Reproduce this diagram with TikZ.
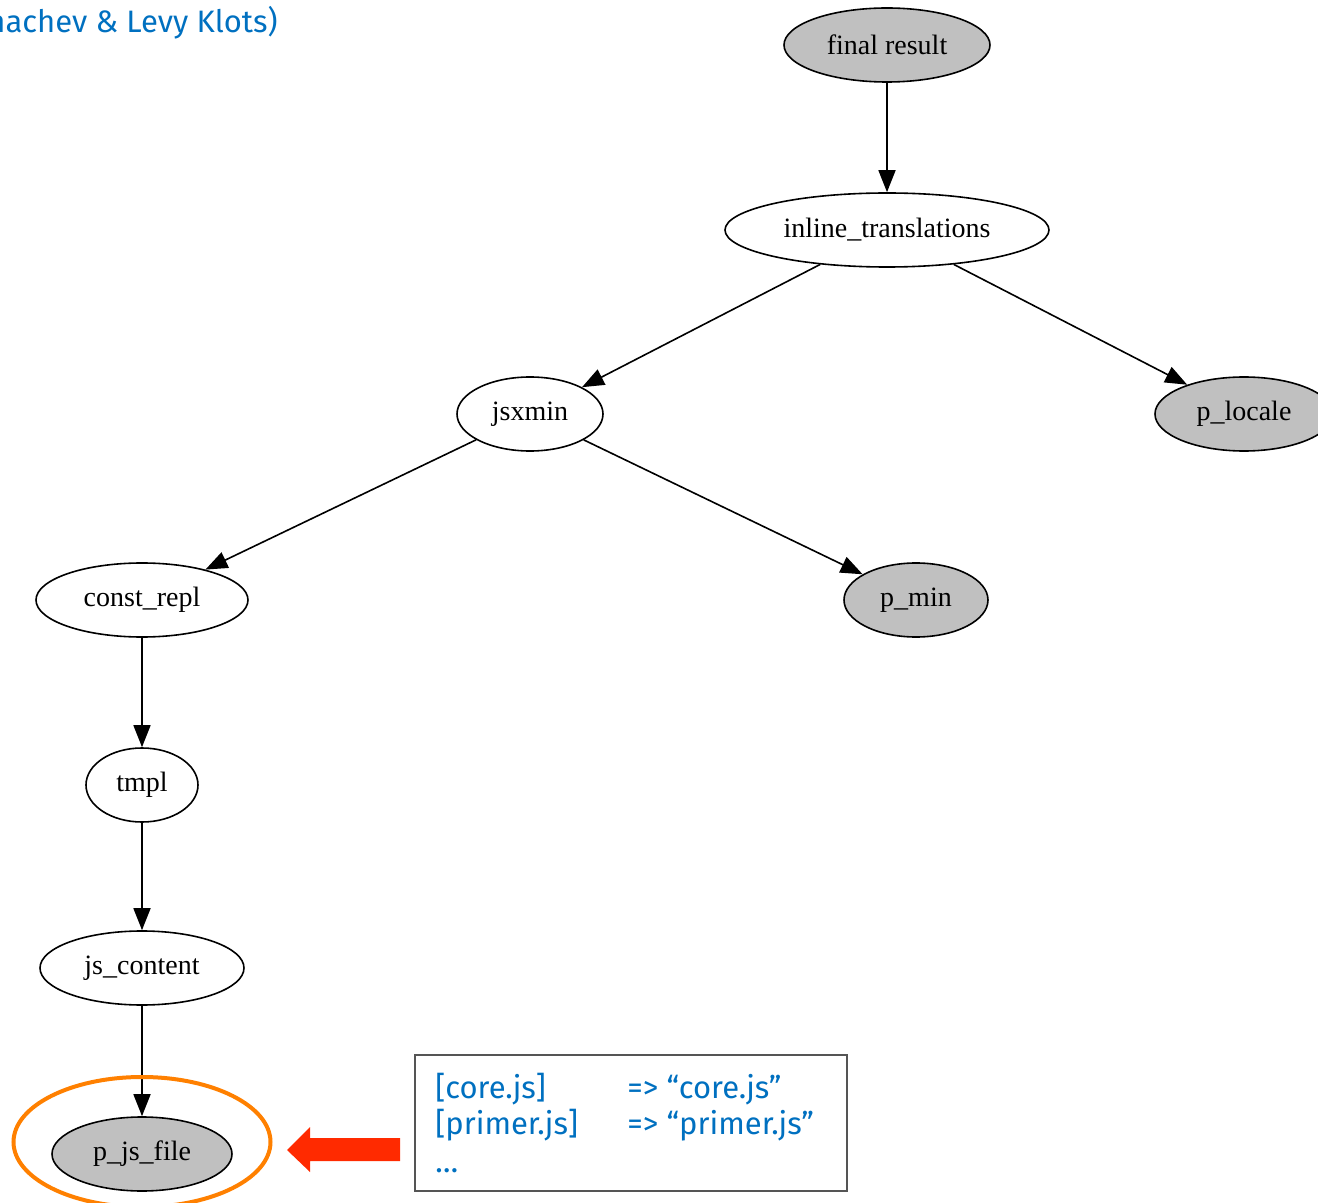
\documentclass[tikz,border=0pt]{standalone}
\usepackage{fontspec}
\setmainfont{Liberation Serif}
\newfontfamily\notefont{Fira Sans}
\usetikzlibrary{arrows.meta,shapes.geometric}

\definecolor{nodegray}{HTML}{C0C0C0}
\definecolor{noteblue}{HTML}{0070C0}
\definecolor{ringorange}{HTML}{FF8000}
\definecolor{pointerred}{HTML}{FF2A00}
\definecolor{boxgray}{HTML}{555555}

\begin{document}
\begin{tikzpicture}[x=0.5pt,y=-0.5pt,
  gnode/.style={ellipse, draw=black, line width=0.8pt, inner sep=0pt,
    minimum height=37pt, font=\fontsize{14}{16}\selectfont},
  filled/.style={gnode, fill=nodegray},
  plain/.style={gnode, fill=white},
  edge/.style={line width=0.8pt, -{Triangle[length=11pt,width=8.5pt]}},
  note/.style={font=\notefont\fontsize{15.5}{18}\selectfont, text=noteblue,
    inner sep=0pt, anchor=base west}]

\useasboundingbox (0,0) rectangle (1318,1203);

% author line at the top
\node[note, anchor=base east] (credit) at (278,33) {nachev \& Levy Klots)};

% dependency graph
\node[filled, minimum width=103pt] (final) at (887,45) {final result};
\node[plain,  minimum width=162pt] (inline) at (887,230) {inline\_translations};
\node[plain,  minimum width=73pt]  (jsxmin) at (530,414) {jsxmin};
\node[filled, minimum width=89pt]  (plocale) at (1244,414) {p\_locale};
\node[plain,  minimum width=106pt] (const) at (142,600) {const\_repl};
\node[filled, minimum width=72pt]  (pmin) at (916,600) {p\_min};
\node[plain,  minimum width=56pt]  (tmpl) at (142,785) {tmpl};
\node[plain,  minimum width=102pt] (jscontent) at (142,968) {js\_content};
\node[filled, minimum width=90pt]  (pjsfile) at (142,1154) {p\_js\_file};

\draw[edge] (final) -- (inline);
\draw[edge] (inline) -- (jsxmin);
\draw[edge] (inline) -- (plocale);
\draw[edge] (jsxmin) -- (const);
\draw[edge] (jsxmin) -- (pmin);
\draw[edge] (const) -- (tmpl);
\draw[edge] (tmpl) -- (jscontent);
\draw[edge] (jscontent) -- (pjsfile);

% highlight ring around the file node
\node[ellipse, draw=ringorange, line width=2pt, minimum width=128.5pt,
  minimum height=65pt] (ring) at (142,1142) {};

% pointer arrow
\fill[pointerred] (400,1138) -- (310,1138) -- (310,1127) -- (287,1150)
  -- (310,1172) -- (310,1161) -- (400,1161) -- cycle;

% mapping note
\draw[boxgray, line width=0.6pt] (415,1055) rectangle (847,1191);
\node[note] (k1) at (435,1098) {[core.js]};
\node[note] (v1) at (627,1098) {=> “core.js”};
\node[note] (k2) at (435,1134) {[primer.js]};
\node[note] (v2) at (627,1134) {=> “primer.js”};
\node[note] (k3) at (435,1172) {…};

\end{tikzpicture}
\end{document}
